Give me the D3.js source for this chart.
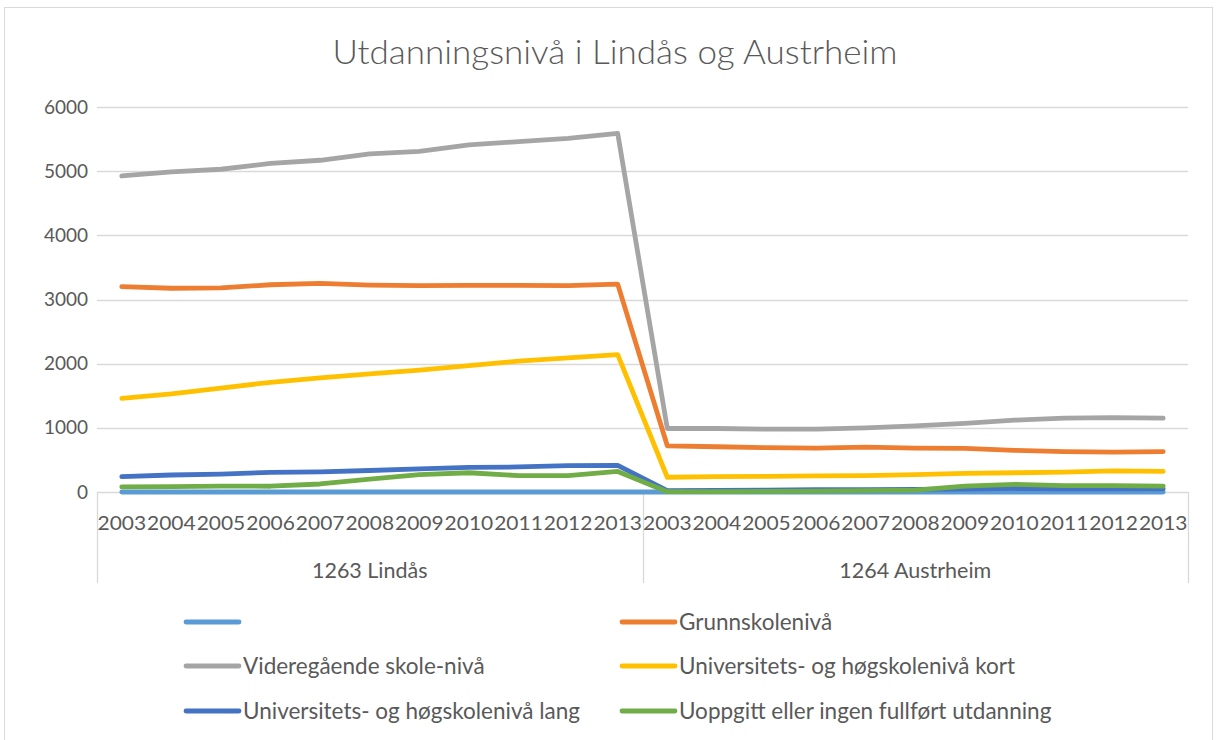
<!DOCTYPE html>
<html>
<head>
<meta charset="utf-8">
<script src="https://cdn.jsdelivr.net/npm/d3@7"></script>
<style>
  body { margin: 0; background: #fff; }
  text { font-family: Lato, "Open Sans", sans-serif; fill: #595959; }
</style>
</head>
<body>
<div id="chart"></div>
<script>
// data
var groups = ["1263 Lindås", "1264 Austrheim"];
var years = ["2003","2004","2005","2006","2007","2008","2009","2010","2011","2012","2013"];
var seriesNames = ["", "Grunnskolenivå", "Videregående skole-nivå", "Universitets- og høgskolenivå kort",
                   "Universitets- og høgskolenivå lang", "Uoppgitt eller ingen fullført utdanning"];
var seriesColors = ["#5b9bd5", "#ed7d31", "#a5a5a5", "#ffc000", "#4472c4", "#70ad47"];

var blank   = [0,0,0,0,0,0,0,0,0,0,0, 0,0,0,0,0,0,0,0,0,0,0];
var grunn   = [3200,3175,3180,3230,3250,3225,3215,3220,3220,3215,3240, 720,705,690,685,700,685,680,650,630,620,630];
var vgs     = [4925,4990,5030,5120,5170,5270,5310,5410,5460,5510,5590, 990,990,980,980,1000,1030,1070,1120,1150,1160,1150];
var uniKort = [1460,1530,1620,1710,1780,1840,1900,1970,2040,2090,2140, 230,240,245,250,255,270,290,300,310,330,320];
var uniLang = [240,265,280,305,315,335,360,385,390,410,415, 20,25,30,35,35,40,45,55,50,50,50];
var uoppg   = [80,85,90,90,125,200,270,300,255,255,320, 5,5,10,15,20,30,90,120,100,100,90];
var yTicks  = [0,1000,2000,3000,4000,5000,6000];

var allSeries = [blank, grunn, vgs, uniKort, uniLang, uoppg];

// categories: group + year
var cats = [];
groups.forEach(function(g){ years.forEach(function(y){ cats.push(g + "|" + y); }); });

var W = 1216, H = 740;
var margin = {top: 107, right: 28, bottom: 248, left: 97};
var width = W - margin.left - margin.right,
    height = H - margin.top - margin.bottom;

var svg = d3.select("#chart").append("svg")
    .attr("width", W).attr("height", H);

// chart border
svg.append("rect")
    .attr("x", 4.5).attr("y", 7.5).attr("width", 1208).attr("height", 740)
    .attr("fill", "none").attr("stroke", "#d9d9d9");

svg.append("text")
    .attr("x", 615).attr("y", 64)
    .attr("text-anchor", "middle")
    .attr("textLength", 565)
    .attr("lengthAdjust", "spacingAndGlyphs")
    .style("font-size", "33px")
    .style("font-weight", 300)
    .text("Utdanningsnivå i Lindås og Austrheim");

var g = svg.append("g")
    .attr("transform", "translate(" + margin.left + "," + margin.top + ")");

var x = d3.scaleBand().domain(cats).range([0, width]);
var y = d3.scaleLinear().domain([0, 6000]).range([height, 0]);

// gridlines
g.selectAll(".grid").data(yTicks).enter().append("line")
    .attr("x1", 0).attr("x2", width)
    .attr("y1", function(d){ return Math.round(y(d)) + 0.5; })
    .attr("y2", function(d){ return Math.round(y(d)) + 0.5; })
    .attr("stroke", "#d9d9d9").attr("stroke-width", 1.3);

// y axis labels
g.selectAll(".ylab").data(yTicks).enter().append("text")
    .attr("x", -9).attr("y", function(d){ return y(d); })
    .attr("dy", "0.35em").attr("text-anchor", "end")
    .style("font-size", "19px")
    .text(function(d){ return d; });

// category axis: dividers
var divs = [0, x.step() * years.length, width];
g.selectAll(".div").data(divs).enter().append("line")
    .attr("x1", function(d){ return Math.round(d) + 0.5; })
    .attr("x2", function(d){ return Math.round(d) + 0.5; })
    .attr("y1", height).attr("y2", height + 91)
    .attr("stroke", "#d9d9d9").attr("stroke-width", 1.3);

// year labels
g.selectAll(".xlab").data(cats).enter().append("text")
    .attr("x", function(d){ return x(d) + x.bandwidth() / 2; })
    .attr("y", height + 38)
    .attr("text-anchor", "middle")
    .attr("textLength", x.bandwidth() - 1)
    .attr("lengthAdjust", "spacingAndGlyphs")
    .style("font-size", "20px")
    .text(function(d){ return d.split("|")[1]; });

// group labels
g.selectAll(".glab").data(groups).enter().append("text")
    .attr("x", function(d, i){ return x.step() * years.length * (i + 0.5); })
    .attr("y", height + 86)
    .attr("text-anchor", "middle")
    .style("font-size", "21.5px")
    .text(function(d){ return d; });

// lines
var line = d3.line()
    .x(function(d, i){ return x(cats[i]) + x.bandwidth() / 2; })
    .y(function(d){ return y(d); });

g.selectAll(".series").data(allSeries).enter().append("path")
    .attr("d", line)
    .attr("fill", "none")
    .attr("stroke", function(d, i){ return seriesColors[i]; })
    .attr("stroke-width", 4.8)
    .attr("stroke-linecap", "round")
    .attr("stroke-linejoin", "round");

// legend
var legX = [186, 622], legY = [622, 666, 711];
var leg = svg.selectAll(".leg").data(seriesNames).enter().append("g")
    .attr("transform", function(d, i){ return "translate(" + legX[i % 2] + "," + legY[Math.floor(i / 2)] + ")"; });
leg.append("line")
    .attr("x1", 0).attr("x2", 53).attr("y1", 0).attr("y2", 0)
    .attr("stroke", function(d, i){ return seriesColors[i]; })
    .attr("stroke-width", 4.8).attr("stroke-linecap", "round");
leg.append("text")
    .attr("x", 57).attr("y", 0).attr("dy", "0.35em")
    .style("font-size", "22.5px")
    .text(function(d){ return d; });
</script>
</body>
</html>
